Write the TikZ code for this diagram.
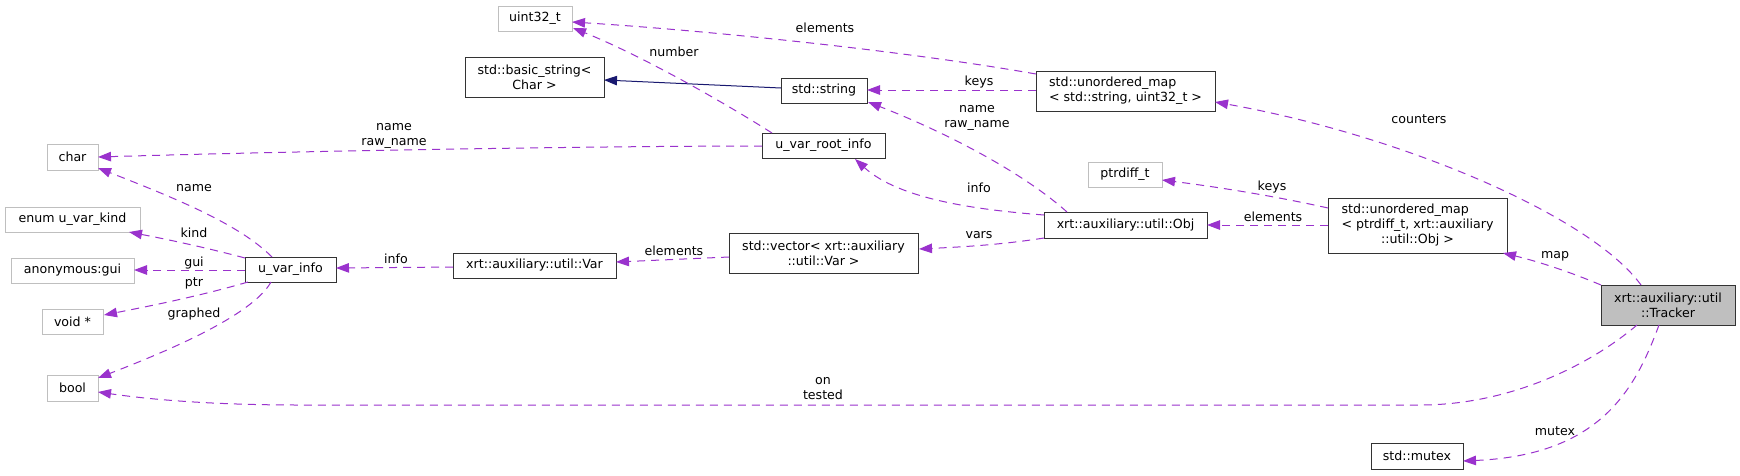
\documentclass[tikz,border=0pt]{standalone}
\usepackage{fontspec}
\setmainfont{DejaVu Sans}
\usetikzlibrary{arrows.meta,calc}
\definecolor{edgep}{HTML}{9A32CD}
\definecolor{gry}{HTML}{BFBFBF}
\definecolor{midblue}{HTML}{191970}
\begin{document}
\begin{tikzpicture}[x=1pt,y=-1pt,
  every node/.style={font=\fontsize{12.6}{15}\selectfont, inner sep=0pt},
  bx/.style n args={2}{draw=black!80, line width=1pt, rectangle, minimum width=#1pt, minimum height=#2pt, align=center},
  gbx/.style n args={2}{draw=gry, line width=1pt, rectangle, minimum width=#1pt, minimum height=#2pt, align=center},
  mem/.style={draw=edgep, line width=1pt, dash pattern=on 8pt off 6pt, -{Triangle[length=13pt,width=9.5pt,fill=edgep]}},
  inh/.style={draw=midblue, line width=1pt, -{Triangle[length=13pt,width=9.5pt,fill=midblue]}},
  lbl/.style={align=center}]
\fill[white] (0,0) rectangle (1740,475);
\useasboundingbox (0,0) rectangle (1740,475);

% nodes
\node[gbx={74}{25}] (uint) at (535,18.5) {uint32\_t};
\node[bx={139}{40}] (bstr) at (534.5,77) {std::basic\_string<\\Char >};
\node[gbx={51}{26}] (chr) at (72.5,157) {char};
\node[gbx={135}{25}] (enumk) at (72.5,219.5) {enum u\_var\_kind};
\node[gbx={123}{25}] (gui) at (72.5,270.5) {anonymous:gui};
\node[gbx={61}{25}] (voidp) at (72.5,321.5) {void *};
\node[gbx={51}{26}] (boo) at (72.5,388) {bool};
\node[bx={91}{25}] (uvi) at (290.5,269.5) {u\_var\_info};
\node[bx={163}{25}] (var) at (534.5,265.5) {xrt::auxiliary::util::Var};
\node[bx={86}{25}] (str) at (824,90.5) {std::string};
\node[bx={123}{25}] (root) at (823.5,145.5) {u\_var\_root\_info};
\node[bx={189}{40}] (vec) at (823.5,253) {std::vector< xrt::auxiliary\\::util::Var >};
\node[bx={179}{40}, align=left] (map1) at (1125.5,91) {std::unordered\_map\\< std::string, uint32\_t >};
\node[gbx={74}{25}] (ptrd) at (1125,174.5) {ptrdiff\_t};
\node[bx={163}{26}] (obj) at (1125.5,225) {xrt::auxiliary::util::Obj};
\node[bx={179}{55}, align=none] (map2) at (1417.5,225.5) {\begin{tabular}{@{}l@{}}std::unordered\_map\\< ptrdiff\_t, xrt::auxiliary\\\multicolumn{1}{@{}c@{}}{::util::Obj >}\end{tabular}};
\node[bx={134}{40}, fill=gry] (trk) at (1668,305) {xrt::auxiliary::util\\::Tracker};
\node[bx={92}{26}] (mtx) at (1417,456) {std::mutex};

% edges
\draw[inh] ($(str)+(-43,-2.5)$) -- ($(bstr)+(69.5,3)$);
\draw[mem] ($(map1)+(-89.5,-17)$) .. controls (900,50) and (700,30) .. ($(uint)+(37,3.5)$);
\draw[mem] ($(map1)+(-89.5,-1)$) -- ($(str)+(43,-0.5)$);
\draw[mem] ($(root)+(-51.5,-12.5)$) .. controls (720,100) and (640,55) .. ($(uint)+(38,9.5)$);
\draw[mem] ($(root)+(-61.5,0.5)$) .. controls (600,146) and (300,151) .. ($(chr)+(25.5,0)$);
\draw[mem] ($(obj)+(-81.5,-10)$) .. controls (980,210) and (900,200) .. ($(root)+(31.5,13.5)$);
\draw[mem] ($(obj)+(-58.5,-13)$) .. controls (1020,170) and (940,130) .. ($(str)+(44,11.5)$);
\draw[mem] ($(obj)+(-81.5,13)$) .. controls (1000,245) and (960,247) .. ($(vec)+(95.5,-4)$);
\draw[mem] ($(vec)+(-94.5,4)$) -- ($(var)+(81.5,-3.5)$);
\draw[mem] ($(var)+(-81.5,1.5)$) -- ($(uvi)+(45.5,-1.5)$);
\draw[mem] ($(uvi)+(-18.5,-12.5)$) .. controls (240,225) and (180,200) .. ($(chr)+(25.5,11)$);
\draw[mem] ($(uvi)+(-45.5,-11.5)$) .. controls (200,246) and (160,238) .. ($(enumk)+(56.5,12.5)$);
\draw[mem] ($(uvi)+(-45.5,0.5)$) -- ($(gui)+(61.5,-0.5)$);
\draw[mem] ($(uvi)+(-42.5,12.5)$) .. controls (200,296) and (150,306) .. ($(voidp)+(31.5,-6.5)$);
\draw[mem] ($(uvi)+(-19.5,12.5)$) .. controls (252,316) and (165,352) .. ($(boo)+(25.5,-10)$);
\draw[mem] ($(map2)+(-89.5,-17.5)$) .. controls (1270,195) and (1210,186) .. ($(ptrd)+(37,5.5)$);
\draw[mem] ($(map2)+(-89.5,-0.5)$) -- ($(obj)+(81.5,0)$);
\draw[mem] ($(trk)+(-67,-20)$) .. controls (1570,272) and (1540,262) .. ($(map2)+(85.5,27.5)$);
\draw[mem] ($(trk)+(-27,-20)$) .. controls (1590,215) and (1400,135) .. ($(map1)+(89.5,11)$);
\draw[mem] ($(trk)+(-31,20)$) .. controls (1590,365) and (1510,405) .. (1420,405) -- (300,405) .. controls (200,405) and (140,398) .. ($(boo)+(25.5,4)$);
\draw[mem] ($(trk)+(-9,20)$) .. controls (1635,390) and (1600,455) .. ($(mtx)+(46,5)$);

% labels
\node[lbl] (l1) at (825,28) {elements};
\node[lbl] (l2) at (979,82) {keys};
\node[lbl] (l3) at (674,52) {number};
\node[lbl] (l4) at (394,135.5) {name\\raw\_name};
\node[lbl] (l5) at (979,188) {info};
\node[lbl] (l6) at (977,117.5) {name\\raw\_name};
\node[lbl] (l7) at (979,235) {vars};
\node[lbl] (l8) at (674,251) {elements};
\node[lbl] (l9) at (396,259) {info};
\node[lbl] (l10) at (194,188) {name};
\node[lbl] (l11) at (194,233) {kind};
\node[lbl] (l12) at (194,263) {gui};
\node[lbl] (l13) at (194,283) {ptr};
\node[lbl] (l14) at (194,314) {graphed};
\node[lbl] (l15) at (1272,187) {keys};
\node[lbl] (l16) at (1273,217) {elements};
\node[lbl] (l17) at (1555,256) {map};
\node[lbl] (l18) at (1419,119) {counters};
\node[lbl] (l19) at (823,389) {on\\tested};
\node[lbl] (l20) at (1555,431) {mutex};
\end{tikzpicture}
\end{document}
